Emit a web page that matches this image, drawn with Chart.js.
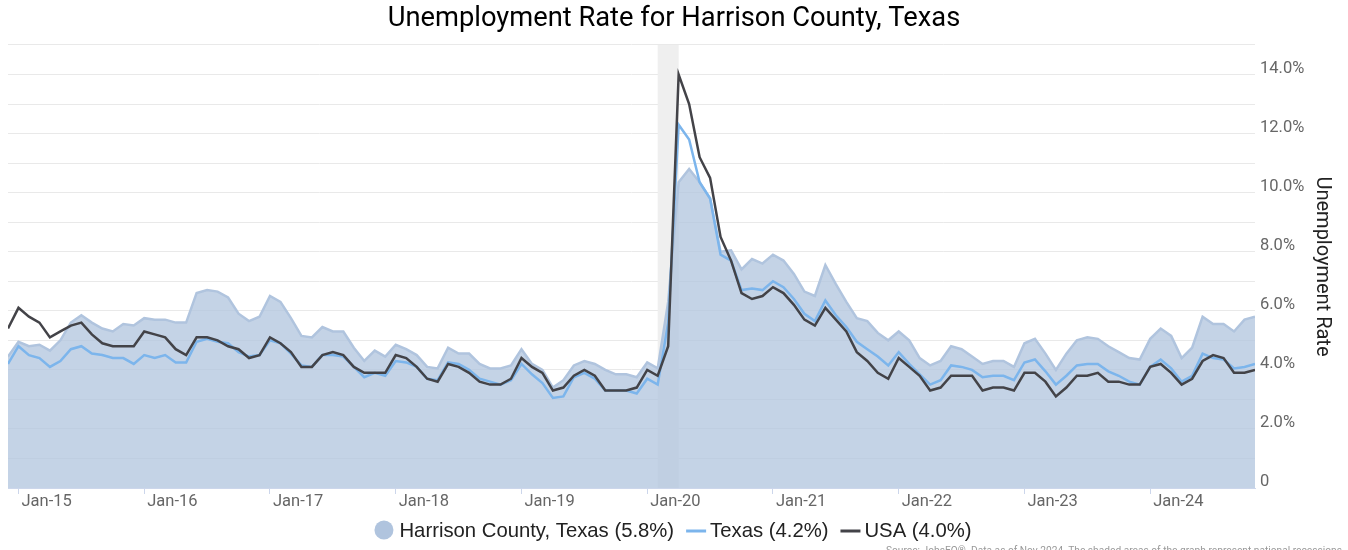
<!DOCTYPE html>
<html>
<head>
<meta charset="utf-8">
<script src="https://cdn.jsdelivr.net/npm/chart.js@4.4.1/dist/chart.umd.min.js"></script>
<style>
html,body{margin:0;padding:0;background:#fff;overflow:hidden}
#wrap{position:relative;width:1348px;height:550px}
#source{position:absolute;left:886px;top:545px;font:10.2px Roboto,sans-serif;color:#999;white-space:nowrap}
</style>
</head>
<body>
<div id="wrap">
<canvas id="c" width="1348" height="550"></canvas>
<div id="source">Source: JobsEQ®. Data as of Nov 2024. The shaded areas of the graph represent national recessions</div>
</div>
<script>
// Monthly values, Dec 2014 .. Nov 2024 (index 0 = Dec 2014)
const harrison = [
 4.45,
 4.95,4.8,4.85,4.65,5.0,5.6,5.85,5.6,5.4,5.3,5.55,5.5,
 5.75,5.7,5.7,5.6,5.6,6.6,6.7,6.65,6.45,5.9,5.65,5.8,
 6.5,6.3,5.75,5.15,5.1,5.45,5.3,5.3,4.75,4.3,4.65,4.45,
 4.85,4.7,4.5,4.1,4.05,4.75,4.55,4.55,4.2,4.05,4.05,4.15,
 4.7,4.2,4.0,3.4,3.65,4.15,4.3,4.2,4.0,3.85,3.85,3.75,
 4.25,4.05,6.3,10.35,10.8,10.35,9.8,8.0,8.05,7.4,7.75,7.6,
 7.9,7.7,7.25,6.65,6.5,7.55,6.9,6.3,5.75,5.65,5.25,5.0,
 5.3,5.0,4.4,4.15,4.3,4.8,4.7,4.45,4.2,4.3,4.3,4.1,
 4.9,5.05,4.55,4.0,4.55,5.0,5.1,5.05,4.8,4.6,4.4,4.35,
 5.05,5.4,5.15,4.4,4.75,5.8,5.55,5.55,5.3,5.7,5.8
];
const texas = [
 4.2,
 4.8,4.5,4.4,4.1,4.3,4.7,4.8,4.55,4.5,4.4,4.4,4.2,
 4.5,4.4,4.5,4.25,4.25,4.95,5.05,4.95,4.9,4.6,4.45,4.5,
 5.0,4.9,4.55,4.15,4.1,4.5,4.5,4.45,4.1,3.75,3.9,3.8,
 4.3,4.25,4.1,3.7,3.65,4.25,4.2,4.0,3.7,3.6,3.5,3.65,
 4.2,3.85,3.55,3.05,3.1,3.75,3.9,3.7,3.3,3.3,3.3,3.2,
 3.7,3.5,5.6,12.3,11.8,10.35,9.8,7.9,7.7,6.7,6.75,6.7,
 7.0,6.8,6.4,5.9,5.65,6.35,5.85,5.45,4.95,4.7,4.45,4.15,
 4.6,4.2,3.85,3.5,3.65,4.15,4.1,4.0,3.75,3.8,3.8,3.65,
 4.25,4.35,3.95,3.5,3.8,4.15,4.2,4.2,3.95,3.8,3.6,3.5,
 4.1,4.35,4.05,3.6,3.8,4.55,4.4,4.35,4.05,4.1,4.2
];
const usa = [
 5.4,
 6.1,5.8,5.6,5.1,5.3,5.5,5.6,5.2,4.9,4.8,4.8,4.8,
 5.3,5.2,5.1,4.7,4.5,5.1,5.1,5.0,4.8,4.7,4.4,4.5,
 5.1,4.9,4.6,4.1,4.1,4.5,4.6,4.5,4.1,3.9,3.9,3.9,
 4.5,4.4,4.1,3.7,3.6,4.2,4.1,3.9,3.6,3.5,3.5,3.7,
 4.4,4.1,3.9,3.3,3.4,3.8,4.0,3.8,3.3,3.3,3.3,3.4,
 4.0,3.8,4.8,14.0,13.0,11.2,10.5,8.5,7.7,6.6,6.4,6.5,
 6.8,6.6,6.2,5.7,5.5,6.1,5.7,5.3,4.6,4.3,3.9,3.7,
 4.4,4.1,3.8,3.3,3.4,3.8,3.8,3.8,3.3,3.4,3.4,3.3,
 3.9,3.9,3.6,3.1,3.4,3.8,3.8,3.9,3.6,3.6,3.5,3.5,
 4.1,4.2,3.9,3.5,3.7,4.3,4.5,4.4,3.9,3.9,4.0
];
const seriesNames = ['Harrison County, Texas', 'Texas', 'USA'];
const xTickIndex = [1,13,25,37,49,61,73,85,97,109];
const xTickLabels = ['Jan-15','Jan-16','Jan-17','Jan-18','Jan-19','Jan-20','Jan-21','Jan-22','Jan-23','Jan-24'];
const yTickValues = [0,2,4,6,8,10,12,14];
const recessionRange = [62,64]; // Feb 2020 .. Apr 2020

const toPts = arr => arr.map((v,i) => ({x:i, y:v}));
const lbl = (name, arr) => name + ' (' + arr[arr.length-1].toFixed(1) + '%)';

const recessionPlugin = {
  id: 'recession',
  beforeDatasetsDraw(chart) {
    const {ctx, chartArea, scales:{x}} = chart;
    const x0 = x.getPixelForValue(recessionRange[0]);
    const x1 = x.getPixelForValue(recessionRange[1]);
    ctx.save();
    ctx.fillStyle = '#efefef';
    ctx.fillRect(x0, chartArea.top, x1 - x0, chartArea.bottom - chartArea.top);
    ctx.restore();
  }
};

const legendPlugin = {
  id: 'customLegend',
  afterDraw(chart) {
    const ctx = chart.ctx;
    const ds = chart.data.datasets;
    ctx.save();
    ctx.font = '20.3px "Liberation Sans", Arial, sans-serif';
    ctx.textBaseline = 'middle';
    const cy = 531;
    const items = ds.map((d,i) => ({
      text: d.label, color: d.borderColor, circle: i === 0,
      markW: i === 0 ? 19 : 20, gap: i === 0 ? 6 : 4,
      tw: ctx.measureText(d.label).width
    }));
    const spacing = 12;
    let total = 0;
    items.forEach((it,i) => { total += it.markW + it.gap + it.tw + (i ? spacing : 0); });
    let x = 673 - total/2;
    items.forEach((it,i) => {
      if (i) x += spacing;
      if (it.circle) {
        ctx.fillStyle = it.color;
        ctx.beginPath(); ctx.arc(x + it.markW/2, cy - 1, it.markW/2, 0, Math.PI*2); ctx.fill();
      } else {
        ctx.strokeStyle = it.color; ctx.lineWidth = 3;
        ctx.beginPath(); ctx.moveTo(x, cy); ctx.lineTo(x + it.markW, cy); ctx.stroke();
      }
      x += it.markW + it.gap;
      ctx.fillStyle = '#222';
      ctx.fillText(it.text, x, cy);
      x += it.tw;
    });
    ctx.restore();
  }
};

new Chart(document.getElementById('c'), {
  type: 'line',
  data: {
    datasets: [
      {label: lbl(seriesNames[0], harrison), data: toPts(harrison), borderColor:'#b0c4de', backgroundColor:'rgba(176,196,222,0.75)', borderWidth:2.5, fill:'origin', pointRadius:0, order:3},
      {label: lbl(seriesNames[1], texas), data: toPts(texas), borderColor:'#7cb5ec', borderWidth:2.5, fill:false, pointRadius:0, order:2},
      {label: lbl(seriesNames[2], usa), data: toPts(usa), borderColor:'#434348', borderWidth:2.5, fill:false, pointRadius:0, order:1}
    ]
  },
  options: {
    responsive: false,
    animation: false,
    layout: {padding: {left: 0, right: 0, top: 0, bottom: 39.5}},
    plugins: {
      title: {display:true, text:'Unemployment Rate for Harrison County, Texas', color:'#000',
        font:{family:'Roboto', size:27.3, weight:'normal'}, padding:{top:3, bottom:9.2}},
      legend: {display:false},
      tooltip: {enabled:false}
    },
    scales: {
      x: {
        type:'linear', min:0, max:harrison.length-1,
        afterBuildTicks: s => { s.ticks = xTickIndex.map(v => ({value:v})); },
        afterFit: s => { s.height = 22.5; },
        ticks: {autoSkip:false, maxRotation:0, align:'start', labelOffset:3, padding:-2, color:'#666',
          font:{family:'Roboto', size:16.5},
          callback: v => { const k = xTickIndex.indexOf(v); return k >= 0 ? xTickLabels[k] : ''; }},
        grid: {drawOnChartArea:false, drawTicks:true, tickLength:6, color:'#ccd6eb'},
        border: {display:true, color:'#ccd6eb'}
      },
      yLeft: {
        position:'left', min:0, max:15,
        afterFit: s => { s.width = 8; },
        ticks: {display:false},
        grid: {display:false},
        border: {display:false}
      },
      y: {
        position:'right', min:0, max:15,
        afterFit: s => { s.width = 93; },
        ticks: {stepSize:1, autoSkip:false, padding:5, labelOffset:-6, color:'#666',
          font:{family:'Roboto', size:16.5},
          callback: v => yTickValues.includes(v) ? (v === 0 ? '0' : v.toFixed(1) + '%') : ''},
        grid: {color:'#e9e9e9', drawTicks:false},
        border: {display:false},
        title: {display:true, text:'Unemployment Rate', color:'#222', font:{family:'Roboto', size:20}, padding:{top:14}}
      }
    }
  },
  plugins: [recessionPlugin, legendPlugin]
});
</script>
</body>
</html>
